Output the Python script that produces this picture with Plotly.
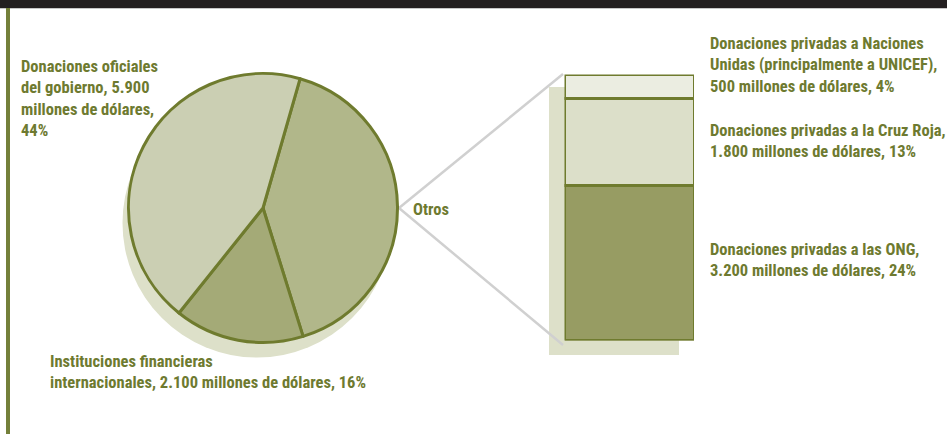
import plotly.graph_objects as go

W, H = 947, 434

# Main pie: total private/official humanitarian funding (millions of USD)
pie_labels = ["Otros", "Instituciones financieras internacionales", "Donaciones oficiales del gobierno"]
pie_values = [5500, 2100, 5900]
pie_colors = ["#b1b78a", "#a4aa77", "#cbcfb3"]

# Breakdown of "Otros" (bottom to top of the stacked bar)
otros_labels = ["Donaciones privadas a las ONG", "Donaciones privadas a la Cruz Roja",
                "Donaciones privadas a Naciones Unidas (principalmente a UNICEF)"]
otros_values = [3200, 1800, 500]
otros_colors = ["#979c63", "#dcdfc9", "#ebede1"]

OLIVE = "#6f7b2e"
TEXT = "#6e7a30"
SHADOW = "#dde0c9"
GREY = "#d0d0d0"
FONT = "Roboto Condensed, Open Sans Condensed, sans-serif"

TOTAL = sum(pie_values)


def fx(px):
    return px / W


def fy(py):
    return 1 - py / H


def money(v):
    return f"{v:,}".replace(",", ".")


def pct(v):
    return f"{round(100 * v / TOTAL)}%"


fig = go.Figure()

# pie geometry (pixels)
cx, cy, r = 263, 208, 134.5
sdx, sdy = -6, 15

# drop shadow behind the pie
fig.add_trace(go.Pie(
    values=[1], labels=["sombra"], marker=dict(colors=[SHADOW], line=dict(width=0)),
    textinfo="none", hoverinfo="skip", showlegend=False, sort=False,
    domain=dict(x=[fx(cx + sdx - r), fx(cx + sdx + r)], y=[fy(cy + sdy + r), fy(cy + sdy - r)]),
))

fig.add_trace(go.Pie(
    values=pie_values, labels=pie_labels,
    marker=dict(colors=pie_colors, line=dict(color=OLIVE, width=3)),
    textinfo="none", showlegend=False, sort=False,
    direction="clockwise", rotation=16,
    domain=dict(x=[fx(cx - r), fx(cx + r)], y=[fy(cy + r), fy(cy - r)]),
))

# stacked bar for the "Otros" breakdown
bx0, bx1, by0, by1 = 564.5, 694, 74.5, 340.5
for lab, v, c in zip(otros_labels, otros_values, otros_colors):
    fig.add_trace(go.Bar(
        x=[0], y=[v], width=1, name=lab,
        marker=dict(color=c, line=dict(color=OLIVE, width=3)),
        showlegend=False, xaxis="x", yaxis="y",
    ))

shapes = [
    # header band
    dict(type="rect", xref="paper", yref="paper", x0=0, x1=1, y0=fy(8.3), y1=1,
         fillcolor="#231f20", line=dict(width=0), layer="above"),
    # left rule
    dict(type="line", xref="paper", yref="paper", x0=fx(8), x1=fx(8), y0=0, y1=fy(8),
         line=dict(color="#74803a", width=4), layer="above"),
    # bar shadow
    dict(type="rect", xref="paper", yref="paper", x0=fx(549), x1=fx(679), y0=fy(355), y1=fy(87),
         fillcolor=SHADOW, line=dict(width=0), layer="below"),
    # connectors from the pie to the bar
    dict(type="line", xref="paper", yref="paper", x0=fx(399), y0=fy(208), x1=fx(563), y1=fy(74),
         line=dict(color=GREY, width=2.5), layer="below"),
    dict(type="line", xref="paper", yref="paper", x0=fx(399), y0=fy(208), x1=fx(563), y1=fy(345),
         line=dict(color=GREY, width=2.5), layer="below"),
]

labels = [
    (19, 99, f"Donaciones oficiales<br>del gobierno, {money(pie_values[2])}<br>millones de dólares,<br>{pct(pie_values[2])}"),
    (48, 371.5, f"Instituciones financieras<br>internacionales, {money(pie_values[1])} millones de dólares, {pct(pie_values[1])}"),
    (411, 209, "Otros"),
    (708, 65, f"Donaciones privadas a Naciones<br>Unidas (principalmente a UNICEF),<br>{money(otros_values[2])} millones de dólares, {pct(otros_values[2])}"),
    (708, 140.5, f"Donaciones privadas a la Cruz Roja,<br>{money(otros_values[1])} millones de dólares, {pct(otros_values[1])}"),
    (708, 260, f"Donaciones privadas a las ONG,<br>{money(otros_values[0])} millones de dólares, {pct(otros_values[0])}"),
]
annotations = [
    dict(x=fx(x), y=fy(y), xref="paper", yref="paper", text=t, showarrow=False,
         xanchor="left", yanchor="middle", align="left",
         font=dict(family=FONT, size=16.5, color=TEXT, weight="bold"))
    for x, y, t in labels
]

fig.update_layout(
    width=W, height=H, margin=dict(l=0, r=0, t=0, b=0),
    paper_bgcolor="white", plot_bgcolor="rgba(0,0,0,0)",
    barmode="stack",
    xaxis=dict(domain=[fx(bx0), fx(bx1)], range=[-0.5, 0.5], visible=False, fixedrange=True),
    yaxis=dict(domain=[fy(by1), fy(by0)], range=[0, sum(otros_values)], visible=False, fixedrange=True),
    shapes=shapes, annotations=annotations,
)

fig.write_html("out.html")
